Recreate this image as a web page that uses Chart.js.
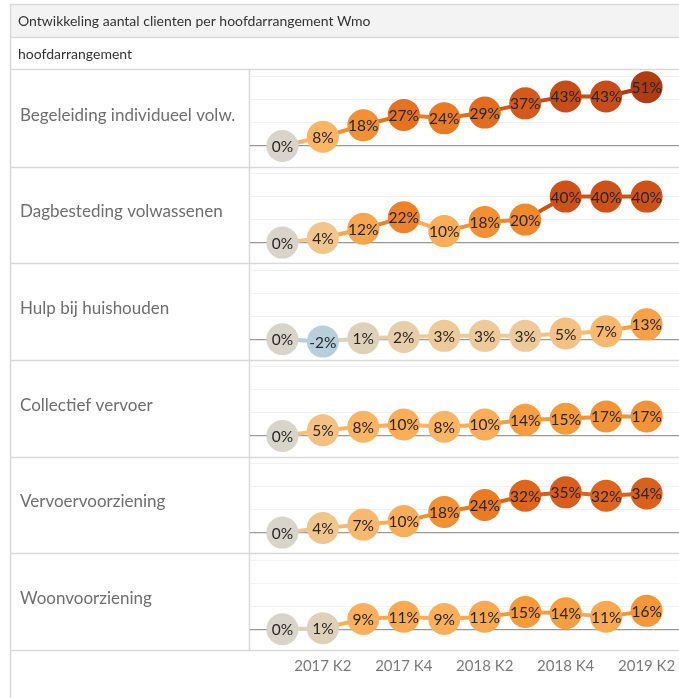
<!DOCTYPE html>
<html>
<head>
<meta charset="utf-8">
<script src="https://cdn.jsdelivr.net/npm/chart.js@4"></script>
<style>
  html, body { margin: 0; padding: 0; background: #fff; }
  canvas { display: block; }
</style>
</head>
<body>
<canvas id="myChart" width="679" height="698"></canvas>
<script>
// quarters on the x axis
const quarters = ["2017 K1", "2017 K2", "2017 K3", "2017 K4", "2018 K1",
  "2018 K2", "2018 K3", "2018 K4", "2019 K1", "2019 K2"];
const shownTicks = [1, 3, 5, 7, 9];

const rowNames = [
  "Begeleiding individueel volw.",
  "Dagbesteding volwassenen",
  "Hulp bij huishouden",
  "Collectief vervoer",
  "Vervoervoorziening",
  "Woonvoorziening",
];

// change vs 2017 K1, percent
const begeleiding = [0, 8, 18, 27, 24, 29, 37, 43, 43, 51];
const dagbesteding = [0, 4, 12, 22, 10, 18, 20, 40, 40, 40];
const hulpHuishouden = [0, -2, 1, 2, 3, 3, 3, 5, 7, 13];
const collectiefVervoer = [0, 5, 8, 10, 8, 10, 14, 15, 17, 17];
const vervoervoorziening = [0, 4, 7, 10, 18, 24, 32, 35, 32, 34];
const woonvoorziening = [0, 1, 9, 11, 9, 11, 15, 14, 11, 16];

const rowValues = [begeleiding, dagbesteding, hulpHuishouden,
  collectiefVervoer, vervoervoorziening, woonvoorziening];

// colour ramp blue - grey - orange - brown
const stops = [
  [-2, [183, 207, 220]],
  [0, [216, 212, 201]],
  [3, [238, 202, 152]],
  [8, [253, 180, 99]],
  [15, [246, 154, 58]],
  [25, [234, 119, 32]],
  [40, [207, 81, 24]],
  [51, [176, 61, 18]],
];
function colorFor(v) {
  if (v <= stops[0][0]) return "rgb(" + stops[0][1].join(",") + ")";
  for (let i = 1; i < stops.length; i++) {
    if (v <= stops[i][0]) {
      const [a, ca] = stops[i - 1];
      const [b, cb] = stops[i];
      const t = (v - a) / (b - a);
      const c = ca.map((x, k) => Math.round(x + (cb[k] - x) * t));
      return "rgb(" + c.join(",") + ")";
    }
  }
  return "rgb(" + stops[stops.length - 1][1].join(",") + ")";
}

const scales = {
  x: {
    type: "linear",
    position: "bottom",
    min: -0.8,
    max: 9.8,
    grid: { display: false, drawTicks: false },
    border: { display: false },
    afterBuildTicks: (s) => { s.ticks = shownTicks.map((v) => ({ value: v })); },
    // let the last tick label run to the edge instead of shrinking the plot
    afterFit: (s) => { s.paddingLeft = 0; s.paddingRight = 0; },
    ticks: {
      callback: (v) => quarters[v],
      color: "#7a7a7a",
      font: { family: "Lato", size: 15 },
      padding: 7,
      maxRotation: 0,
      autoSkip: false,
    },
  },
};
// stacked left axes are placed last-created on top, so add them bottom row first
for (let i = rowNames.length - 1; i >= 0; i--) {
  scales["y" + i] = {
    type: "linear",
    position: "left",
    stack: "rows",
    stackWeight: 1,
    min: -18,
    max: 66,
    afterBuildTicks: (s) => { s.ticks = [0, 20, 40, 60].map((v) => ({ value: v })); },
    ticks: { display: false },
    border: { display: false },
    grid: {
      drawTicks: false,
      color: (c) => (c.tick.value === 0 ? "#9a9a9a" : "#f1f1f1"),
      lineWidth: (c) => (c.tick.value === 0 ? 1.2 : 1),
    },
  };
}

const tableDecor = {
  id: "tableDecor",
  beforeDraw(chart) {
    const ctx = chart.ctx;
    const W = chart.width;
    const H = chart.height;
    const area = chart.chartArea;
    ctx.save();
    ctx.fillStyle = "#fff";
    ctx.fillRect(0, 0, W, H);
    ctx.fillStyle = "#f3f3f3";
    ctx.fillRect(10, 4, W - 10, 33);
    ctx.strokeStyle = "#d9d9d9";
    ctx.lineWidth = 1.5;
    ctx.beginPath();
    [4.5, 37.5, 69.5].forEach((y) => { ctx.moveTo(10, y); ctx.lineTo(W, y); });
    ctx.moveTo(10.5, 4);
    ctx.lineTo(10.5, H);
    ctx.moveTo(249.5, 69.5);
    ctx.lineTo(249.5, area.bottom);
    rowNames.forEach((n, i) => {
      const y = Math.round(chart.scales["y" + i].bottom) + 0.5;
      ctx.moveTo(10, y);
      ctx.lineTo(W, y);
    });
    ctx.stroke();

    ctx.textBaseline = "middle";
    ctx.textAlign = "left";
    ctx.fillStyle = "#333";
    ctx.font = "14px Lato";
    ctx.fillText("Ontwikkeling aantal clienten per hoofdarrangement Wmo", 18, 21);
    ctx.fillText("hoofdarrangement", 18, 54);
    ctx.fillStyle = "#6e6e6e";
    ctx.font = "17px Lato";
    rowNames.forEach((n, i) => {
      const s = chart.scales["y" + i];
      ctx.fillText(n, 20, (s.top + s.bottom) / 2 - 3);
    });
    ctx.restore();
  },
};

const pointLabels = {
  id: "pointLabels",
  afterDatasetsDraw(chart) {
    const ctx = chart.ctx;
    ctx.save();
    ctx.font = "15.5px Lato";
    ctx.fillStyle = "#262626";
    ctx.textAlign = "center";
    ctx.textBaseline = "middle";
    chart.data.datasets.forEach((ds, i) => {
      chart.getDatasetMeta(i).data.forEach((pt, k) => {
        ctx.fillText(ds.data[k].y + "%", pt.x, pt.y + 1);
      });
    });
    ctx.restore();
  },
};

chart = new Chart(document.getElementById("myChart").getContext("2d"), {
  type: "line",
  data: {
    datasets: rowValues.map((vals, i) => ({
      label: rowNames[i],
      yAxisID: "y" + i,
      xAxisID: "x",
      data: vals.map((v, k) => ({ x: k, y: v })),
      borderWidth: 4,
      borderColor: colorFor(vals[vals.length - 1]),
      segment: { borderColor: (c) => colorFor(c.p1.parsed.y) },
      pointRadius: 16,
      pointHoverRadius: 16,
      pointBorderWidth: 0,
      pointBackgroundColor: vals.map(colorFor),
      clip: false,
    })),
  },
  options: {
    responsive: false,
    animation: false,
    events: [],
    layout: {
      autoPadding: false,
      padding: { left: 250, top: 70, right: 0, bottom: 16 },
    },
    plugins: {
      legend: { display: false },
      tooltip: { enabled: false },
      title: { display: false },
    },
    scales: scales,
  },
  plugins: [tableDecor, pointLabels],
});
</script>
</body>
</html>
